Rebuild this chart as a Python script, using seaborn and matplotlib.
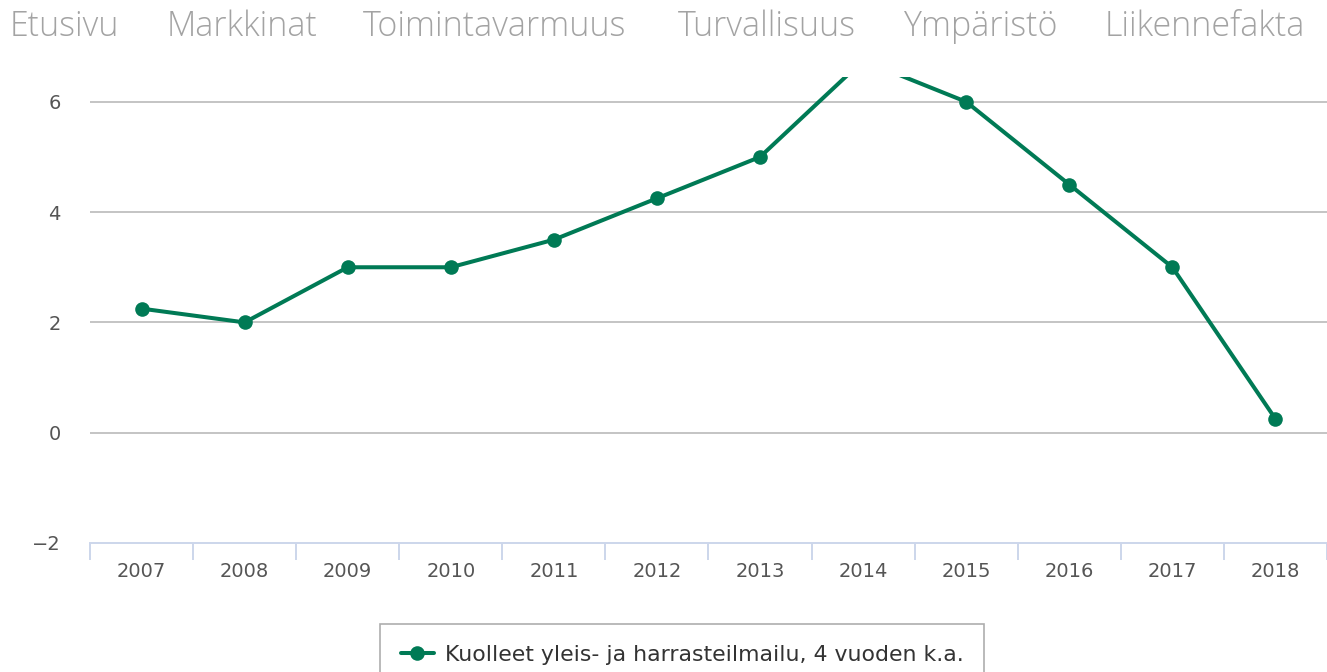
import matplotlib
matplotlib.use("Agg")
import matplotlib.pyplot as plt
import seaborn as sns
import pandas as pd
import numpy as np

years = ["2007", "2008", "2009", "2010", "2011", "2012", "2013", "2014", "2015", "2016", "2017", "2018"]
values = [2.25, 2.0, 3.0, 3.0, 3.5, 4.25, 5.0, 6.75, 6.0, 4.5, 3.0, 0.25]
series_name = "Kuolleet yleis- ja harrasteilmailu, 4 vuoden k.a."
nav_items = ["Etusivu", "Markkinat", "Toimintavarmuus", "Turvallisuus", "Ympäristö", "Liikennefakta"]
y_ticks = [-2, 0, 2, 4, 6]

sns.set_style("white")
plt.rcParams["font.family"] = ["DejaVu Sans"]

W, H = 1327, 672
fig = plt.figure(figsize=(W / 100, H / 100), dpi=100)
ax = fig.add_axes([90 / W, 1 - 543 / H, 1237 / W, (543 - 77) / H])

df = pd.DataFrame({"year": np.arange(len(years)), "value": values, "series": series_name})
green = "#007a55"
sns.lineplot(data=df, x="year", y="value", hue="series", palette=[green], ax=ax,
             marker="o", markersize=10.5, markeredgewidth=0, linewidth=2.9, legend=True)

ax.set_xlim(-0.5, len(years) - 0.5)
ax.set_ylim(-2, 6.45)
ax.set_xlabel("")
ax.set_ylabel("")

ax.set_yticks(y_ticks)
ax.set_yticklabels([f"{t}".replace("-", "\u2212") for t in y_ticks])
for t in [0, 2, 4, 6]:
    ax.axhline(t, color="#c4c4c4", linewidth=1.4, zorder=0)

ax.set_xticks(np.arange(len(years)))
ax.set_xticklabels(years)
ax.set_xticks(np.arange(len(years) + 1) - 0.5, minor=True)
ax.tick_params(axis="x", which="major", bottom=True, length=0, pad=14, labelsize=14, labelcolor="#555555")
ax.tick_params(axis="x", which="minor", bottom=True, length=12.5, width=1.4, color="#ccd6eb", direction="out")
ax.tick_params(axis="y", which="both", left=False, length=0, pad=21, labelsize=14, labelcolor="#555555")

for s in ["top", "right", "left"]:
    ax.spines[s].set_visible(False)
ax.spines["bottom"].set_color("#ccd6eb")
ax.spines["bottom"].set_linewidth(1.4)

# navigation bar
nav_x = [10, 167, 363, 678, 904, 1105]
for name, x in zip(nav_items, nav_x):
    fig.text(x / W, 1 - 27 / H, name, fontsize=24.5, color="#a3a3a3", ha="left", va="center",
             family=["Open Sans", "DejaVu Sans"], fontweight="light")

# legend
handles, labels = ax.get_legend_handles_labels()
ax.legend_.remove()
leg = fig.legend(handles, labels, loc="upper center", bbox_to_anchor=(682 / W, 1 - 624 / H),
                 borderaxespad=0, frameon=True, fontsize=15.8, handlelength=1.5, handletextpad=0.5,
                 borderpad=0.95, fancybox=False, labelcolor="#333333")
leg.get_frame().set_edgecolor("#999999")
leg.get_frame().set_linewidth(1.2)

fig.savefig("out.png", dpi=100)
